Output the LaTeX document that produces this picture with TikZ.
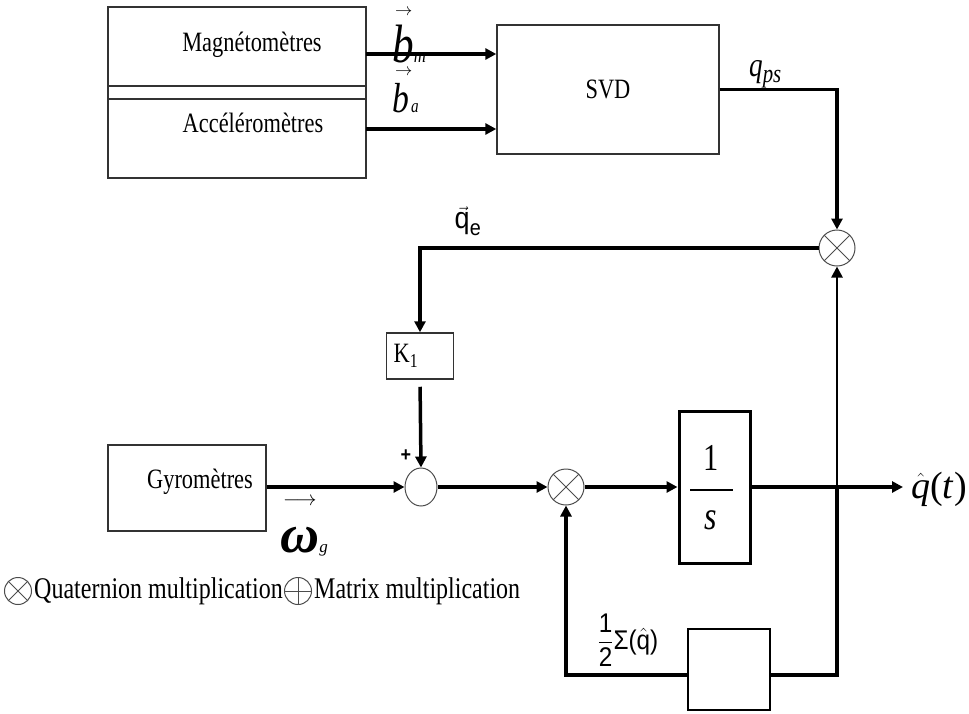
\documentclass[tikz,border=0pt]{standalone}
\usepackage{amsmath}
\usepackage{fontspec}
\setmainfont{Liberation Serif}[FakeStretch=0.8]
\setsansfont{Liberation Sans}[FakeStretch=0.9]
\newfontfamily\plainserif{Liberation Serif}
\usetikzlibrary{arrows.meta, positioning, shapes.geometric}

% arrow over a symbol: arrow size, gap, symbol
\newcommand{\arrowover}[3]{\vbox{\offinterlineskip
  \hbox{\kern3pt\fontsize{#1}{#1}\selectfont$\rightarrow$}\vskip #2\hbox{#3}}}

\tikzset{
  blk/.style={draw=black!80, line width=1.4pt, inner sep=0pt},
  sig/.style={line width=3.5pt, -{Triangle[length=11pt, width=11pt]}},
  wire/.style={line width=3.5pt},
  txt/.style={font=\fontsize{28}{32}\selectfont, inner sep=0pt},
  legtxt/.style={font=\fontsize{30}{34}\selectfont, inner sep=0pt},
  mult/.style={circle, draw=black!70, line width=1pt, minimum size=36pt, inner sep=0pt,
    path picture={\draw[black!70, line width=1pt] (path picture bounding box.center)
      +(45:30pt) -- +(225:30pt) +(135:30pt) -- +(-45:30pt);}},
  madd/.style={circle, draw=black!70, line width=1pt, minimum size=27pt, inner sep=0pt,
    path picture={\draw[black!70, line width=1pt] (path picture bounding box.center)
      +(0:30pt) -- +(180:30pt) +(90:30pt) -- +(270:30pt);}},
}

\begin{document}
\begin{tikzpicture}[x=1pt, y=-1pt]
  \useasboundingbox (0,0) rectangle (969,713);

  % Sensors
  \node[blk, minimum width=258pt, minimum height=171pt] (sens) at (237,92.5) {};
  \draw[black!80, line width=1.4pt] (sens.west |- 0,86) -- (sens.east |- 0,86);
  \draw[black!80, line width=1.4pt] (sens.west |- 0,99) -- (sens.east |- 0,99);
  \node[txt] (mag) at (252,45) {Magnétomètres};
  \node[txt] (acc) at (253,123) {Accéléromètres};

  % SVD block
  \node[blk, txt, minimum width=222pt, minimum height=129pt] (svd) at (608,89.5) {SVD};
  \coordinate (bm) at (366,54);
  \coordinate (ba) at (366,129);
  \draw[sig] (bm) -- (svd.west |- bm);
  \draw[sig] (ba) -- (svd.west |- ba);
  \node[anchor=base west, inner sep=0pt] (bmlab) at (392,62)
    {\arrowover{17}{9pt}{\fontsize{54}{54}\selectfont\itshape b\fontsize{21}{21}\selectfont m}};
  \node[anchor=base west, inner sep=0pt] (balab) at (392,112)
    {\arrowover{17}{7pt}{\fontsize{42}{42}\selectfont\itshape b\kern2pt\fontsize{19}{19}\selectfont a}};

  % Quaternion product with q_ps
  \node[mult] (qm1) at (837,248) {};
  \draw[sig] (svd.east) -| (qm1.north);
  \node[anchor=base west, inner sep=0pt] (qpslab) at (749,76) {\fontsize{34}{34}\selectfont\itshape q\fontsize{26}{26}\selectfont\raisebox{-6pt}{ps}};

  % Error and gain
  \node[blk, minimum width=67pt, minimum height=46pt, line width=1.5pt] (k1) at (420,356) {};
  \node[txt] (k1t) at (406,356) {K\textsubscript{1}};
  \draw[sig] (qm1.west) -- (k1.north |- qm1) -- (k1.north);
  \node[inner sep=0pt, font=\fontsize{20}{20}\selectfont] (qelab) at (468,221) {$\vec{\hbox{\fontsize{30}{30}\selectfont\sffamily q}}_{\hbox{\fontsize{22}{22}\selectfont\sffamily e}}$};

  % Gyro branch
  \node[blk, minimum width=158pt, minimum height=86pt] (gyro) at (187,488) {};
  \node[txt] (gyrot) at (200,482) {Gyromètres};
  \node[ellipse, draw=black!70, line width=1pt, minimum width=32pt, minimum height=38pt, inner sep=0pt] (sum) at (421,487) {};
  \draw[sig, shorten <=7pt] (k1.south) -- (sum.north);
  \draw[sig] (gyro.east |- sum) -- (sum.west);
  \node[inner sep=0pt, font=\sffamily\bfseries\fontsize{20}{20}\selectfont] (plus) at (406,456) {+};
  \node[anchor=base west, inner sep=0pt] (wlab) at (280,552) {\vbox{\offinterlineskip
    \hbox{\kern3pt\fontsize{20}{20}\selectfont$\longrightarrow$}\vskip 21pt
    \hbox{\plainserif\fontsize{54}{54}\selectfont\bfseries\itshape ω\fontsize{17}{17}\selectfont\mdseries g}}};

  % Integrator
  \node[mult] (qm2) at (566,487) {};
  \draw[sig] (sum.east) -- (qm2.west);
  \node[draw, line width=3pt, minimum width=71pt, minimum height=152pt, inner sep=0pt] (integ) at (714.5,487) {};
  \draw[sig] (qm2.east) -- (integ.west);
  \node[inner sep=0pt, font=\fontsize{38}{38}\selectfont] (one) at (711,458) {1};
  \node[inner sep=0pt, font=\fontsize{40}{40}\selectfont\itshape] (ess) at (711,520) {s};
  \draw[line width=2pt] (690,490) -- (733,490);
  \coordinate (out) at (903,487);
  \draw[sig] (integ.east) -- (out);
  \node[anchor=west, inner sep=0pt, font=\plainserif\fontsize{38}{38}\selectfont] (qtlab) at (911,489) {$\hat{\hbox{\itshape q}}$(\textit{t})};

  % Feedback 1/2 Sigma(q)
  \node[draw, line width=1.5pt, minimum width=82pt, minimum height=81pt, inner sep=0pt] (fb) at (729,669.5) {};
  \coordinate (fbr) at (837,675);
  \coordinate (fbl) at (566,675);
  \coordinate (tap) at (837,487);
  \draw[wire] (fb.east |- fbr) -- (fbr) -- (tap);
  \draw[sig, line width=2.5pt] (tap) -- (qm1.south);
  \draw[sig] (fb.west |- fbl) -- (fbl) -- (qm2.south);
  \node[inner sep=0pt, font=\sffamily\fontsize{27}{27}\selectfont] (siglab) at (628,640) {$\dfrac{\hbox{\sffamily 1}}{\hbox{\sffamily 2}}$Σ($\hat{\hbox{\sffamily q}}$)};

  % Legend
  \node[mult, minimum size=27pt] (lgq) at (18,591) {};
  \node[legtxt, anchor=west, right=2pt of lgq] (lgqt) {Quaternion multiplication};
  \node[madd, right=1pt of lgqt] (lgm) {};
  \node[legtxt, anchor=west, right=2pt of lgm] (lgmt) {Matrix multiplication};
\end{tikzpicture}
\end{document}
